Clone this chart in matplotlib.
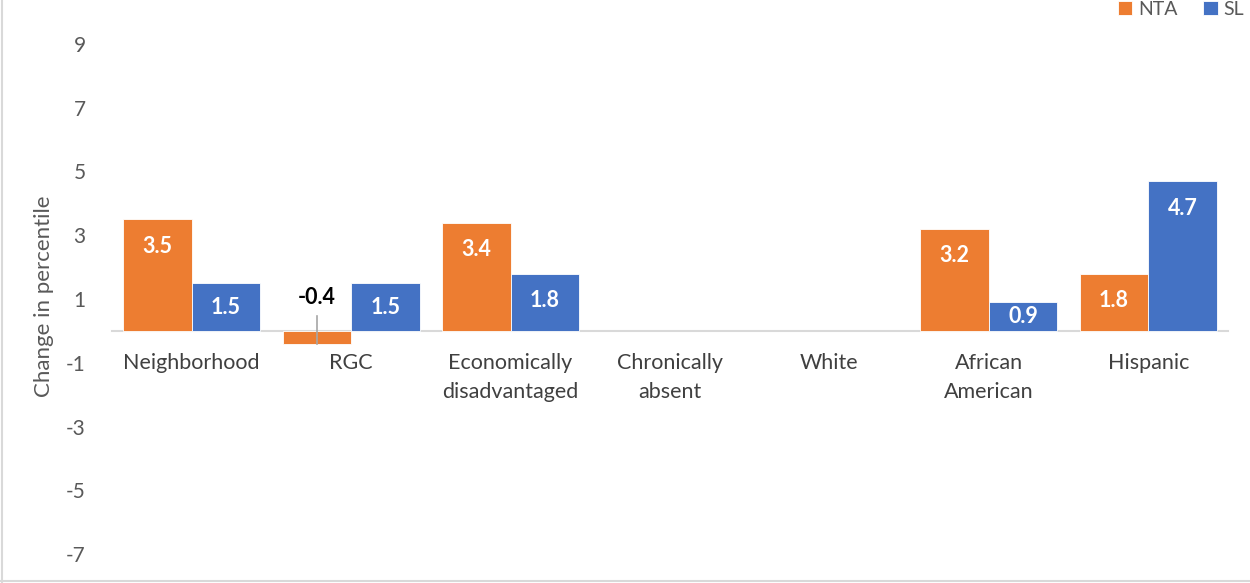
import numpy as np
import matplotlib.pyplot as plt
from matplotlib.lines import Line2D

plt.rcParams['font.family'] = ['Lato', 'DejaVu Sans']

categories = ['Neighborhood', 'RGC', 'Economically\ndisadvantaged', 'Chronically\nabsent',
              'White', 'African\nAmerican', 'Hispanic']
nta = [3.5, -0.4, 3.4, np.nan, np.nan, 3.2, 1.8]
sl = [1.5, 1.5, 1.8, np.nan, np.nan, 0.9, 4.7]
yticks = [-7, -5, -3, -1, 1, 3, 5, 7, 9]

orange = '#ED7D31'
blue = '#4472C4'
grey_txt = '#595959'

fig = plt.figure(figsize=(12.5, 5.83), dpi=100)
ax = fig.add_axes([112 / 1250, 1 - 581 / 583, (1228 - 112) / 1250, (581 - 12) / 583])

x = np.arange(len(categories))
w = 0.43
b1 = ax.bar(x - w / 2, nta, w, color=orange, label='NTA', edgecolor='white', linewidth=0.6)
b2 = ax.bar(x + w / 2, sl, w, color=blue, label='SL', edgecolor='white', linewidth=0.6)

ax.set_xlim(-0.5, len(categories) - 0.5)
ax.set_ylim(-7.84, 10)
ax.set_yticks(yticks)
ax.set_yticklabels([str(t) for t in yticks])
ax.set_xticks(x)
ax.set_xticklabels(categories)

for s in ['top', 'right', 'left']:
    ax.spines[s].set_visible(False)
ax.spines['bottom'].set_position(('data', 0))
ax.spines['bottom'].set_color('#D9D9D9')
ax.spines['bottom'].set_linewidth(1.5)
ax.spines['bottom'].set_zorder(0)
ax.tick_params(axis='both', length=0, colors=grey_txt, labelsize=15)
ax.tick_params(axis='x', pad=16, colors='#404040', labelsize=15.5)
ax.tick_params(axis='y', pad=19)
for lbl in ax.get_xticklabels():
    lbl.set_linespacing(1.55)

ax.set_ylabel('Change in percentile', fontsize=16, color=grey_txt)
ax.yaxis.set_label_coords(-0.052, 0.5)

# value labels
px = 31.9  # pixels per unit
for bars, vals in [(b1, nta), (b2, sl)]:
    for rect, v in zip(bars, vals):
        if np.isnan(v):
            continue
        cx = rect.get_x() + rect.get_width() / 2
        if v >= 0:
            off = min(27, v * px / 2)
            ax.annotate(f'{v:.1f}', (cx, v), xytext=(0, -off * 0.72), textcoords='offset points',
                        ha='center', va='center', color='white', fontsize=15.5, fontweight='bold')
        else:
            ax.text(cx, 1.04, f'{v:.1f}', ha='center', va='center', color='black',
                    fontsize=15.5, fontweight='bold')
            ax.plot([cx, cx], [0.47, v], color='#A6A6A6', lw=1.2, zorder=3)

ax.legend(loc='upper right', bbox_to_anchor=(1.03, 1.05), ncol=2, frameon=False, fontsize=14,
          handlelength=0.75, handleheight=0.75, handletextpad=0.3, columnspacing=1.3,
          labelcolor=grey_txt)

# chart border
fig.add_artist(Line2D([2 / 1250, 2 / 1250], [0, 1], transform=fig.transFigure, color='#D9D9D9', lw=1.5))
fig.add_artist(Line2D([0, 1], [2 / 583, 2 / 583], transform=fig.transFigure, color='#D9D9D9', lw=1.5))

fig.savefig('out.png', dpi=100)
